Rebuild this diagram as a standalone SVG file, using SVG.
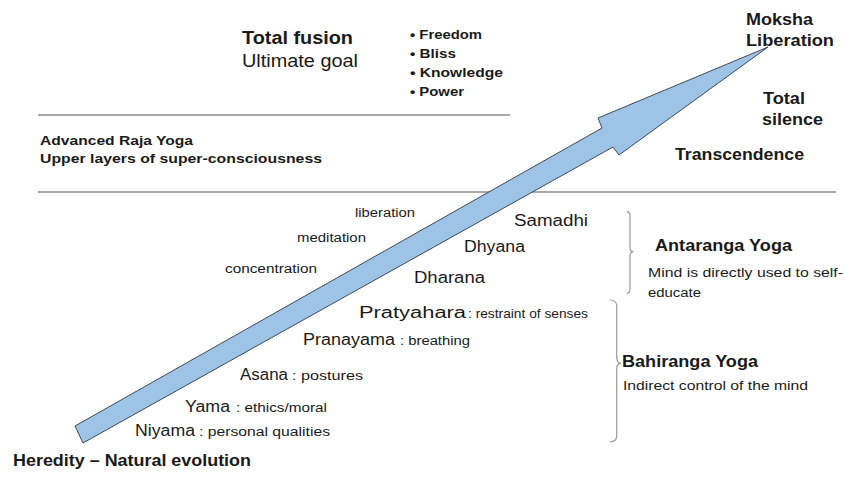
<svg xmlns="http://www.w3.org/2000/svg" width="845" height="481" viewBox="0 0 845 481">
<style>
  text { font-family: "Liberation Sans", Arial, sans-serif; fill: #1a1a1a; }
  .b { font-weight: bold; }
  .h1 { font-size: 17.5px; }
  .h2 { font-size: 16px; }
  .bl { font-size: 13px; font-weight: bold; }
  .nm { font-size: 16px; }
  .ds { font-size: 12.5px; }
  .sm { font-size: 12.5px; }
  .rule { stroke: #8c8c8c; stroke-width: 1.5; fill: none; }
  .brace { stroke: #9a9a9a; stroke-width: 1.2; fill: none; }
  .arrow { fill: #9dc3e6; stroke: #3f4a58; stroke-width: 1; stroke-linejoin: miter; }
</style>
<rect width="845" height="481" fill="#ffffff"/>

<g id="connectors">
  <line class="rule" x1="38" y1="115" x2="510" y2="115"/>
  <line class="rule" x1="38" y1="192" x2="836" y2="192"/>
  <polygon id="progress-arrow" class="arrow" points="75,426 602,128 598,118 768,47 619,155 613,147 83,443"/>
  <path class="brace" d="M626.7,211.7 Q630,211.7 630,216 L630,247.5 Q630,251.7 633.5,251.7 Q630,251.7 630,256 L630,289 Q630,293.3 626.7,293.3"/>
  <path class="brace" d="M610,300 Q616.7,300 616.7,306 L616.7,357.5 Q616.7,363.3 621,363.3 Q616.7,363.3 616.7,369 L616.7,436 Q616.7,441.7 610,441.7"/>
</g>

<g id="goal">
  <text class="b h1" x="242" y="44" textLength="111" lengthAdjust="spacingAndGlyphs">Total fusion</text>
  <text class="h1" x="242" y="67" textLength="116" lengthAdjust="spacingAndGlyphs">Ultimate goal</text>
</g>

<g id="goal-list">
  <text class="bl" x="410" y="39" textLength="72" lengthAdjust="spacingAndGlyphs">• Freedom</text>
  <text class="bl" x="410" y="58" textLength="46" lengthAdjust="spacingAndGlyphs">• Bliss</text>
  <text class="bl" x="410" y="77" textLength="93" lengthAdjust="spacingAndGlyphs">• Knowledge</text>
  <text class="bl" x="410" y="96" textLength="54" lengthAdjust="spacingAndGlyphs">• Power</text>
</g>

<g id="moksha">
  <text class="b h2" x="746" y="25" textLength="67" lengthAdjust="spacingAndGlyphs">Moksha</text>
  <text class="b h2" x="746" y="46" textLength="88" lengthAdjust="spacingAndGlyphs">Liberation</text>
</g>

<g id="silence">
  <text class="b h2" x="763" y="104" textLength="42" lengthAdjust="spacingAndGlyphs">Total</text>
  <text class="b h2" x="762" y="125" textLength="61" lengthAdjust="spacingAndGlyphs">silence</text>
</g>

<g id="transcendence">
  <text class="b h2" x="675" y="160" textLength="129" lengthAdjust="spacingAndGlyphs">Transcendence</text>
</g>

<g id="advanced-raja-yoga">
  <text class="bl" x="40" y="145" textLength="153" lengthAdjust="spacingAndGlyphs">Advanced Raja Yoga</text>
  <text class="bl" x="40" y="163" textLength="282" lengthAdjust="spacingAndGlyphs">Upper layers of super-consciousness</text>
</g>

<g id="inner-labels">
  <text class="ds" x="355" y="217" textLength="60" lengthAdjust="spacingAndGlyphs">liberation</text>
  <text class="ds" x="297" y="242" textLength="69" lengthAdjust="spacingAndGlyphs">meditation</text>
  <text class="ds" x="225" y="273" textLength="92" lengthAdjust="spacingAndGlyphs">concentration</text>
</g>

<g id="samadhi">
  <text class="nm" x="514" y="226" textLength="74" lengthAdjust="spacingAndGlyphs">Samadhi</text>
</g>
<g id="dhyana">
  <text class="nm" x="464" y="252" textLength="61" lengthAdjust="spacingAndGlyphs">Dhyana</text>
</g>
<g id="dharana">
  <text class="nm" x="414" y="283" textLength="71" lengthAdjust="spacingAndGlyphs">Dharana</text>
</g>
<g id="pratyahara">
  <text class="nm" x="359" y="318" textLength="107" lengthAdjust="spacingAndGlyphs">Pratyahara</text>
  <text class="ds" x="468" y="318" textLength="120" lengthAdjust="spacingAndGlyphs">: restraint of senses</text>
</g>
<g id="pranayama">
  <text class="nm" x="303" y="345" textLength="92" lengthAdjust="spacingAndGlyphs">Pranayama</text>
  <text class="ds" x="400" y="345" textLength="70" lengthAdjust="spacingAndGlyphs">: breathing</text>
</g>
<g id="asana">
  <text class="nm" x="240" y="380" textLength="48" lengthAdjust="spacingAndGlyphs">Asana</text>
  <text class="ds" x="292" y="380" textLength="71" lengthAdjust="spacingAndGlyphs">: postures</text>
</g>
<g id="yama">
  <text class="nm" x="185" y="412" textLength="45" lengthAdjust="spacingAndGlyphs">Yama</text>
  <text class="ds" x="236" y="412" textLength="91" lengthAdjust="spacingAndGlyphs">: ethics/moral</text>
</g>
<g id="niyama">
  <text class="nm" x="135" y="436" textLength="60" lengthAdjust="spacingAndGlyphs">Niyama</text>
  <text class="ds" x="199" y="436" textLength="131" lengthAdjust="spacingAndGlyphs">: personal qualities</text>
</g>

<g id="heredity">
  <text class="b" style="font-size:17px" x="13" y="466" textLength="238" lengthAdjust="spacingAndGlyphs">Heredity – Natural evolution</text>
</g>

<g id="antaranga">
  <text class="b h2" x="655" y="251" textLength="137" lengthAdjust="spacingAndGlyphs">Antaranga Yoga</text>
  <text class="sm" x="648" y="277" textLength="195" lengthAdjust="spacingAndGlyphs">Mind is directly used to self-</text>
  <text class="sm" x="648" y="297" textLength="53" lengthAdjust="spacingAndGlyphs">educate</text>
</g>

<g id="bahiranga">
  <text class="b h2" x="622" y="367" textLength="136" lengthAdjust="spacingAndGlyphs">Bahiranga Yoga</text>
  <text class="sm" x="623" y="390" textLength="185" lengthAdjust="spacingAndGlyphs">Indirect control of the mind</text>
</g>
</svg>
